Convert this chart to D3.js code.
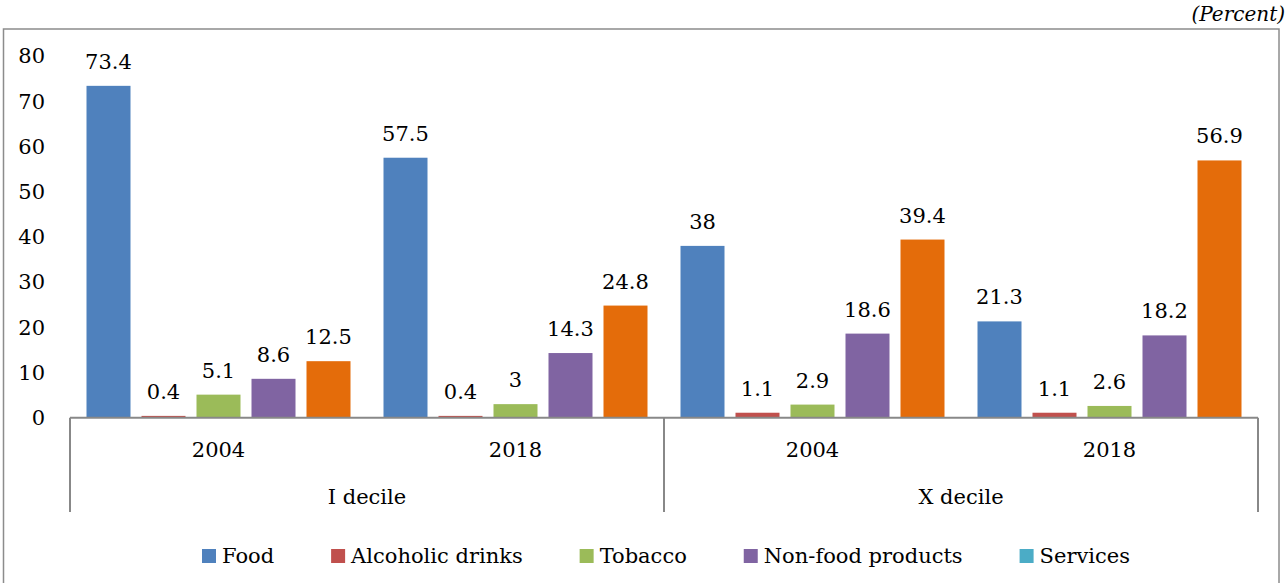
<!DOCTYPE html>
<html><head><meta charset="utf-8">
<script src="https://cdn.jsdelivr.net/npm/d3@7"></script>
<style>
html,body{margin:0;padding:0;background:#fff;}
</style></head>
<body>
<svg id="c" width="1287" height="583"></svg>
<script>
const groups = ["I decile", "X decile"];
const years = ["2004", "2018"];
const series = ["Food", "Alcoholic drinks", "Tobacco", "Non-food products", "Services"];
const barColors = ["#4F81BD", "#C0504D", "#9BBB59", "#8064A2", "#E46C0A"];
const legendColors = ["#4F81BD", "#C0504D", "#9BBB59", "#8064A2", "#4BACC6"];
const food = [73.4, 57.5, 38, 21.3];
const alcohol = [0.4, 0.4, 1.1, 1.1];
const tobacco = [5.1, 3, 2.9, 2.6];
const nonFood = [8.6, 14.3, 18.6, 18.2];
const services = [12.5, 24.8, 39.4, 56.9];
const yTicks = [0, 10, 20, 30, 40, 50, 60, 70, 80];

const values = [food, alcohol, tobacco, nonFood, services];
const cats = [];
groups.forEach(g => years.forEach(y => cats.push(g + "|" + y)));

const FONT = "'DejaVu Serif'";
const FS = 21;
const svg = d3.select("#c").attr("font-family", FONT).attr("font-size", FS);
const pLeft = 70, pRight = 1258, pTop = 56, zero = 417.7;

// outer border
svg.append("rect").attr("x", 3.5).attr("y", 29).attr("width", 1275.5).attr("height", 600)
  .attr("fill", "none").attr("stroke", "#8c8c8c").attr("stroke-width", 1.5);

svg.append("text").attr("x", 1285).attr("y", 21).attr("text-anchor", "end")
  .attr("font-style", "italic").attr("font-size", 20).text("(Percent)");

const x0 = d3.scaleBand().domain(cats).range([pLeft, pRight]).padding(0);
const x1 = d3.scaleBand().domain(series).range([16.5, x0.bandwidth() - 16.5]).paddingInner(0.2).paddingOuter(0);
const y = d3.scaleLinear().domain([0, 80]).range([zero, pTop]);

// y tick labels
svg.append("g").selectAll("text").data(yTicks).join("text")
  .attr("x", 45).attr("y", d => y(d)).attr("dy", "0.35em").attr("text-anchor", "end")
  .text(d => d);

// bars
const data = [];
cats.forEach((c, ci) => series.forEach((s, si) => data.push({c, s, si, v: values[si][ci]})));
svg.append("g").selectAll("rect").data(data).join("rect")
  .attr("x", d => x0(d.c) + x1(d.s)).attr("width", x1.bandwidth())
  .attr("y", d => y(d.v)).attr("height", d => zero - y(d.v))
  .attr("fill", d => barColors[d.si]);

svg.append("g").selectAll("text").data(data).join("text")
  .attr("x", d => x0(d.c) + x1(d.s) + x1.bandwidth() / 2).attr("y", d => y(d.v) - 17)
  .attr("text-anchor", "middle").text(d => d.v);

// axis
const ax = svg.append("g").attr("stroke", "#888").attr("stroke-width", 2);
ax.append("line").attr("x1", pLeft).attr("x2", pRight).attr("y1", zero).attr("y2", zero);
const pBottom = 512;
[pLeft, x0(cats[2]), pRight].forEach(xx =>
  ax.append("line").attr("x1", xx).attr("x2", xx).attr("y1", zero).attr("y2", pBottom));

svg.append("g").selectAll("text").data(cats).join("text")
  .attr("x", d => x0(d) + x0.bandwidth() / 2).attr("y", 450).attr("dy", "0.35em")
  .attr("text-anchor", "middle").text(d => d.split("|")[1]);

svg.append("g").selectAll("text").data(groups).join("text")
  .attr("x", (d, i) => x0(cats[i * 2]) + x0.bandwidth()).attr("y", 497).attr("dy", "0.35em")
  .attr("text-anchor", "middle").text(d => d);

// legend
const lg = svg.append("g");
const items = lg.selectAll("g").data(series).join("g");
items.append("rect").attr("width", 14).attr("height", 14).attr("y", 549)
  .attr("fill", (d, i) => legendColors[i]);
items.append("text").attr("x", 20).attr("y", 556).attr("dy", "0.35em").text(d => d);
const widths = [];
items.each(function () { widths.push(20 + this.querySelector("text").getComputedTextLength()); });
const legStart = 202, legEnd = 1130;
const gap = (legEnd - legStart - d3.sum(widths)) / (widths.length - 1);
let cx = legStart;
items.attr("transform", (d, i) => { const t = `translate(${cx},0)`; cx += widths[i] + gap; return t; });
</script>
</body></html>
